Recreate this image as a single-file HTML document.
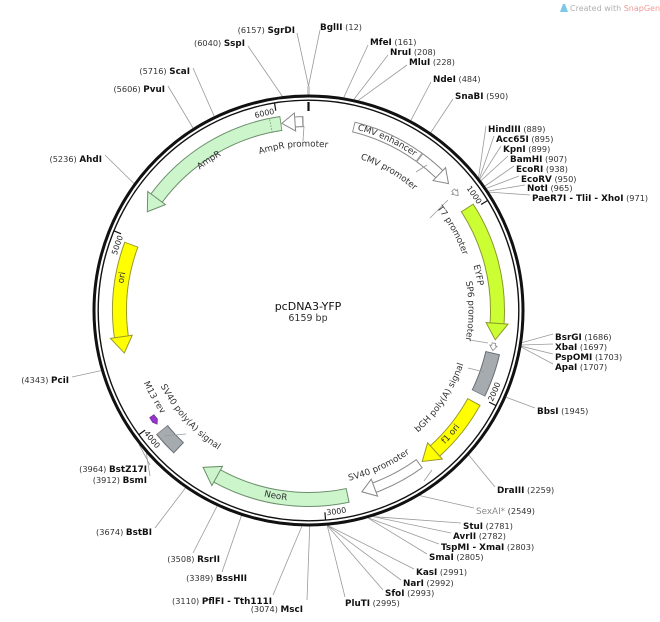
<!DOCTYPE html>
<html><head><meta charset="utf-8"><style>
html,body{margin:0;padding:0;background:#fff;}
svg{display:block;font-family:"DejaVu Sans","Liberation Sans",sans-serif;}
.e{font-size:8.8px;fill:#111;}
.e tspan.n{font-weight:bold;}
.e tspan.p{font-size:8.2px;fill:#333;}
.f{font-size:8.8px;fill:#333;}
.t{font-size:7.8px;fill:#222;}
.l{stroke:#9a9a9a;stroke-width:0.8;fill:none;}
</style></head><body>
<svg width="660" height="622" viewBox="0 0 660 622" xmlns="http://www.w3.org/2000/svg">
<defs>
<path id="cw162" d="M308.5,472.5 A162,162 0 1 1 308.5,148.5 A162,162 0 1 1 308.5,472.5"/>
<path id="cw166" d="M308.5,476.5 A166,166 0 1 1 308.5,144.5 A166,166 0 1 1 308.5,476.5"/>
<path id="cw173" d="M308.5,483.5 A173,173 0 1 1 308.5,137.5 A173,173 0 1 1 308.5,483.5"/>
<path id="cw180" d="M308.5,490.5 A180,180 0 1 1 308.5,130.5 A180,180 0 1 1 308.5,490.5"/>
<path id="cw189" d="M308.5,499.5 A189,189 0 1 1 308.5,121.5 A189,189 0 1 1 308.5,499.5"/>
<path id="cw202" d="M308.5,512.5 A202,202 0 1 1 308.5,108.5 A202,202 0 1 1 308.5,512.5"/>
<path id="ccw162" d="M308.5,148.5 A162,162 0 1 0 308.5,472.5 A162,162 0 1 0 308.5,148.5"/>
<path id="ccw164" d="M308.5,146.5 A164,164 0 1 0 308.5,474.5 A164,164 0 1 0 308.5,146.5"/>
<path id="ccw173" d="M308.5,137.5 A173,173 0 1 0 308.5,483.5 A173,173 0 1 0 308.5,137.5"/>
<path id="ccw178" d="M308.5,132.5 A178,178 0 1 0 308.5,488.5 A178,178 0 1 0 308.5,132.5"/>
<path id="ccw189" d="M308.5,121.5 A189,189 0 1 0 308.5,499.5 A189,189 0 1 0 308.5,121.5"/>
<path id="ccw203" d="M308.5,107.5 A203,203 0 1 0 308.5,513.5 A203,203 0 1 0 308.5,107.5"/>
</defs>

<path d="M560,12 l3,-8 l2,0 l3,8 z" fill="#7cc8e8"/>
<text x="570" y="11" style="font-size:8px;fill:#b0b0b0">Created with <tspan fill="#e99">SnapGene</tspan>®</text>

<g class="l">
<path d="M320,30 L308.5,86 M297,33 L308.5,86"/>
<path d="M308.5,86 L308.5,95" stroke="#ccc" stroke-width="3"/>
<path d="M248,46 L282.3,96.1"/>
<path d="M368,45 L343.8,97.4"/>
<path d="M388,55 L354,99.3"/>
<path d="M407,65 L358.3,100.3"/>
<path d="M431,82 L410.9,120.3"/>
<path d="M453,99 L430.8,132.5"/>
<path d="M486,126 L478.6,177.4"/>
<path d="M494,136 L479.4,178.5"/>
<path d="M501,146 L479.9,179.2"/>
<path d="M508,156 L481.1,180.6"/>
<path d="M514,166 L485.1,186"/>
<path d="M519,176 L486.6,188.3"/>
<path d="M525,185 L488.5,191"/>
<path d="M530,195 L489.2,192.1"/>
<path d="M553,334 L522.1,342.6"/>
<path d="M553,344 L521.7,345"/>
<path d="M553,354 L521.5,346.3"/>
<path d="M553,364 L521.4,347.2"/>
<path d="M535,408 L506.3,397.3"/>
<path d="M495,487 L468.9,455.2"/>
<path d="M474,508 L419.8,495.6"/>
<path d="M461,523 L373.3,516.6"/>
<path d="M451,533 L373.1,516.6"/>
<path d="M439,544 L368.6,518"/>
<path d="M427,554 L368.1,518.1"/>
<path d="M414,569 L328,525.6"/>
<path d="M401,580 L327.8,525.7"/>
<path d="M383,590 L327.5,525.7"/>
<path d="M345,597 L327.3,525.8"/>
<path d="M307,600 L309.7,526.5"/>
<path d="M273,595 L301.8,526.4"/>
<path d="M222,572 L241.4,515.8"/>
<path d="M193,553 L217,506.2"/>
<path d="M155,528 L185.4,488"/>
<path d="M150,476 L146.3,453.2"/>
<path d="M150,465 L139,444.4"/>
<path d="M72,377 L101,370.6"/>
<path d="M105,155 L133.8,183.4"/>
<path d="M168,86 L193,128"/>
<path d="M193,68 L214.2,116.2"/>
</g>

<circle cx="308.5" cy="310.5" r="214.5" fill="none" stroke="#111" stroke-width="3"/>
<circle cx="308.5" cy="310.5" r="210.3" fill="none" stroke="#111" stroke-width="1.4"/>

<g stroke="#111" stroke-width="1.2">
<line x1="308.5" y1="102" x2="308.5" y2="111" stroke-width="2.2"/>
<g transform="rotate(58.45 308.5 310.5)"><line x1="308.5" y1="100.5" x2="308.5" y2="108"/></g>
<g transform="rotate(116.9 308.5 310.5)"><line x1="308.5" y1="100.5" x2="308.5" y2="108"/></g>
<g transform="rotate(175.35 308.5 310.5)"><line x1="308.5" y1="100.5" x2="308.5" y2="108"/></g>
<g transform="rotate(233.8 308.5 310.5)"><line x1="308.5" y1="100.5" x2="308.5" y2="108"/></g>
<g transform="rotate(292.25 308.5 310.5)"><line x1="308.5" y1="100.5" x2="308.5" y2="108"/></g>
<g transform="rotate(350.7 308.5 310.5)"><line x1="308.5" y1="100.5" x2="308.5" y2="108"/></g>
</g>
<g class="t">
<text transform="rotate(57.9 308.5 310.5)"><textPath href="#cw202" startOffset="50%" text-anchor="end" dominant-baseline="central">1000</textPath></text>
<text transform="rotate(291.7 308.5 310.5)"><textPath href="#cw202" startOffset="50%" text-anchor="end" dominant-baseline="central">5000</textPath></text>
<text transform="rotate(350.2 308.5 310.5)"><textPath href="#cw202" startOffset="50%" text-anchor="end" dominant-baseline="central">6000</textPath></text>
<text transform="rotate(-63.6 308.5 310.5)"><textPath href="#ccw203" startOffset="50%" text-anchor="start" dominant-baseline="central">2000</textPath></text>
<text transform="rotate(-5.1 308.5 310.5)"><textPath href="#ccw203" startOffset="50%" text-anchor="start" dominant-baseline="central">3000</textPath></text>
<text transform="rotate(53.3 308.5 310.5)"><textPath href="#ccw203" startOffset="50%" text-anchor="start" dominant-baseline="central">4000</textPath></text>
</g>

<g fill="none">
<circle cx="308.5" cy="310.5" r="189" stroke="#888" stroke-width="11" stroke-dasharray="73.07 2000" transform="rotate(-76.26 308.5 310.5)"/>
<circle cx="308.5" cy="310.5" r="189" stroke="#fff" stroke-width="9" stroke-dasharray="71.5 2000" transform="rotate(-76.0 308.5 310.5)"/>
<circle cx="308.5" cy="310.5" r="189" stroke="#888" stroke-width="11" stroke-dasharray="25.9 2000" transform="rotate(-54.05 308.5 310.5)"/>
<circle cx="308.5" cy="310.5" r="189" stroke="#fff" stroke-width="9" stroke-dasharray="25.5 2000" transform="rotate(-53.8 308.5 310.5)"/>
<circle cx="308.5" cy="310.5" r="189" stroke="#8a9a2a" stroke-width="15" stroke-dasharray="121.7 2000" transform="rotate(-33 308.5 310.5)"/>
<circle cx="308.5" cy="310.5" r="189" stroke="#ccff33" stroke-width="13" stroke-dasharray="121.2 2000" transform="rotate(-32.7 308.5 310.5)"/>
<circle cx="308.5" cy="310.5" r="189" stroke="#6a6e72" stroke-width="15" stroke-dasharray="43.2 2000" transform="rotate(12.9 308.5 310.5)"/>
<circle cx="308.5" cy="310.5" r="189" stroke="#a6abb0" stroke-width="13" stroke-dasharray="41.6 2000" transform="rotate(13.2 308.5 310.5)"/>
<circle cx="308.5" cy="310.5" r="189" stroke="#99992a" stroke-width="15" stroke-dasharray="63.3 2000" transform="rotate(28.8 308.5 310.5)"/>
<circle cx="308.5" cy="310.5" r="189" stroke="#ffff00" stroke-width="13" stroke-dasharray="62.8 2000" transform="rotate(29.1 308.5 310.5)"/>
<circle cx="308.5" cy="310.5" r="189" stroke="#888" stroke-width="11" stroke-dasharray="51.5 2000" transform="rotate(54 308.5 310.5)"/>
<circle cx="308.5" cy="310.5" r="189" stroke="#fff" stroke-width="9" stroke-dasharray="51 2000" transform="rotate(54.3 308.5 310.5)"/>
<circle cx="308.5" cy="310.5" r="189" stroke="#6b8e6b" stroke-width="15" stroke-dasharray="135.3 2000" transform="rotate(77.9 308.5 310.5)"/>
<circle cx="308.5" cy="310.5" r="189" stroke="#ccf5cc" stroke-width="13" stroke-dasharray="134.8 2000" transform="rotate(78.2 308.5 310.5)"/>
<circle cx="308.5" cy="310.5" r="189" stroke="#6a6e72" stroke-width="15" stroke-dasharray="25.1 2000" transform="rotate(133.3 308.5 310.5)"/>
<circle cx="308.5" cy="310.5" r="189" stroke="#a6abb0" stroke-width="13" stroke-dasharray="23.5 2000" transform="rotate(133.6 308.5 310.5)"/>
<circle cx="308.5" cy="310.5" r="189" stroke="#99992a" stroke-width="15" stroke-dasharray="94 2000" transform="rotate(172 308.5 310.5)"/>
<circle cx="308.5" cy="310.5" r="189" stroke="#ffff00" stroke-width="13" stroke-dasharray="93.5 2000" transform="rotate(171.9 308.5 310.5)"/>
<circle cx="308.5" cy="310.5" r="189" stroke="#6b8e6b" stroke-width="15" stroke-dasharray="149.1 2000" transform="rotate(216.5 308.5 310.5)"/>
<circle cx="308.5" cy="310.5" r="189" stroke="#ccf5cc" stroke-width="13" stroke-dasharray="148.6 2000" transform="rotate(216.4 308.5 310.5)"/>
<circle cx="308.5" cy="310.5" r="189" stroke="#888" stroke-width="11" stroke-dasharray="8.6 2000" transform="rotate(265.9 308.5 310.5)"/>
<circle cx="308.5" cy="310.5" r="189" stroke="#fff" stroke-width="9" stroke-dasharray="8.0 2000" transform="rotate(265.7 308.5 310.5)"/>
</g>
<g stroke-width="1" stroke-linejoin="miter">
<polygon transform="rotate(43.8 308.5 310.5)" points="308.5,112.5 308.5,130.5 321.7,122" fill="#fff" stroke="#888"/>
<polygon transform="rotate(93.9 308.5 310.5)" points="308.5,110.5 308.5,132.5 325,122.2" fill="#ccff33" stroke="#8a9a2a"/>
<polygon transform="rotate(138 308.5 310.5)" points="308.5,110.5 308.5,132.5 325,122.2" fill="#ffff00" stroke="#99992a"/>
<polygon transform="rotate(159.6 308.5 310.5)" points="308.5,112.5 308.5,130.5 321.7,122" fill="#fff" stroke="#888"/>
<polygon transform="rotate(208.9 308.5 310.5)" points="308.5,110.5 308.5,132.5 325,122.2" fill="#ccf5cc" stroke="#6b8e6b"/>
<polygon transform="rotate(262 308.5 310.5)" points="308.5,110.5 308.5,132.5 292,122.2" fill="#ffff00" stroke="#99992a"/>
<polygon transform="rotate(306.5 308.5 310.5)" points="308.5,110.5 308.5,132.5 292,122.2" fill="#ccf5cc" stroke="#6b8e6b"/>
<polygon transform="rotate(355.9 308.5 310.5)" points="308.5,112.5 308.5,130.5 295.3,122" fill="#fff" stroke="#888"/>
<polygon transform="rotate(50.2 308.5 310.5)" points="308.5,124 311,124 311,126 316,122 311,118.5 311,120.5 308.5,120.5" fill="#fff" stroke="#888" stroke-width="0.8"/>
<polygon transform="rotate(100 308.5 310.5)" points="308.5,124 311,124 311,126 316,122 311,118.5 311,120.5 308.5,120.5" fill="#fff" stroke="#888" stroke-width="0.8"/>
<polygon transform="rotate(236 308.5 310.5)" points="308.5,119 303,118.8 299,121.5 303,124.5 308.5,124" fill="#9933cc" stroke="#663399" stroke-width="0.8"/>
<line transform="rotate(348.5 308.5 310.5)" x1="308.5" y1="115.5" x2="308.5" y2="128.5" stroke="#6b8e6b" stroke-width="0.8" stroke-dasharray="1.5 1.5"/>
</g>
<g class="l">
<path d="M303,141 L304,126"/>
<path d="M416,172 L427,165"/>
<path d="M430,218 L448,200"/>
<path d="M470,340 L488,343"/>
<path d="M468,368 L484,372"/>
<path d="M424,481 L432,470"/>
<path d="M186,434 L164,436"/>
</g>

<g class="f">
<text transform="rotate(24.8 308.5 310.5)"><textPath href="#cw189" startOffset="50%" text-anchor="middle" dominant-baseline="central">CMV enhancer</textPath></text>
<text transform="rotate(30.1 308.5 310.5)"><textPath href="#cw162" startOffset="50%" text-anchor="middle" dominant-baseline="central">CMV promoter</textPath></text>
<text transform="rotate(-5.3 308.5 310.5)"><textPath href="#cw166" startOffset="50%" text-anchor="middle" dominant-baseline="central">AmpR promoter</textPath></text>
<text transform="rotate(326.5 308.5 310.5)"><textPath href="#cw180" startOffset="50%" text-anchor="middle" dominant-baseline="central">AmpR</textPath></text>
<text transform="rotate(60.9 308.5 310.5)"><textPath href="#cw166" startOffset="50%" text-anchor="middle" dominant-baseline="central">T7 promoter</textPath></text>
<text transform="rotate(78.2 308.5 310.5)"><textPath href="#cw173" startOffset="50%" text-anchor="middle" dominant-baseline="central">EYFP</textPath></text>
<text transform="rotate(90.2 308.5 310.5)"><textPath href="#cw162" startOffset="50%" text-anchor="middle" dominant-baseline="central">SP6 promoter</textPath></text>
<text transform="rotate(280 308.5 310.5)"><textPath href="#cw189" startOffset="50%" text-anchor="middle" dominant-baseline="central">ori</textPath></text>
<text transform="rotate(-56.4 308.5 310.5)"><textPath href="#ccw162" startOffset="50%" text-anchor="middle" dominant-baseline="central">bGH poly(A) signal</textPath></text>
<text transform="rotate(-49 308.5 310.5)"><textPath href="#ccw189" startOffset="50%" text-anchor="middle" dominant-baseline="central">f1 ori</textPath></text>
<text transform="rotate(-24.4 308.5 310.5)"><textPath href="#ccw173" startOffset="50%" text-anchor="middle" dominant-baseline="central">SV40 promoter</textPath></text>
<text transform="rotate(10 308.5 310.5)"><textPath href="#ccw189" startOffset="50%" text-anchor="middle" dominant-baseline="central">NeoR</textPath></text>
<text transform="rotate(48 308.5 310.5)"><textPath href="#ccw164" startOffset="50%" text-anchor="middle" dominant-baseline="central">SV40 poly(A) signal</textPath></text>
<text transform="rotate(60.6 308.5 310.5)"><textPath href="#ccw178" startOffset="50%" text-anchor="middle" dominant-baseline="central">M13 rev</textPath></text>
</g>

<text x="308" y="310" text-anchor="middle" style="font-size:11px;fill:#111">pcDNA3-YFP</text>
<text x="308" y="321" text-anchor="middle" style="font-size:9.5px;fill:#333">6159 bp</text>

<g class="e">
<text x="320" y="30"><tspan class="n">BglII</tspan><tspan class="p"> (12)</tspan></text>
<text x="370" y="45"><tspan class="n">MfeI</tspan><tspan class="p"> (161)</tspan></text>
<text x="390" y="55"><tspan class="n">NruI</tspan><tspan class="p"> (208)</tspan></text>
<text x="409" y="65"><tspan class="n">MluI</tspan><tspan class="p"> (228)</tspan></text>
<text x="433" y="82"><tspan class="n">NdeI</tspan><tspan class="p"> (484)</tspan></text>
<text x="455" y="99"><tspan class="n">SnaBI</tspan><tspan class="p"> (590)</tspan></text>
<text x="488" y="132"><tspan class="n">HindIII</tspan><tspan class="p"> (889)</tspan></text>
<text x="496" y="142"><tspan class="n">Acc65I</tspan><tspan class="p"> (895)</tspan></text>
<text x="503" y="152"><tspan class="n">KpnI</tspan><tspan class="p"> (899)</tspan></text>
<text x="510" y="162"><tspan class="n">BamHI</tspan><tspan class="p"> (907)</tspan></text>
<text x="516" y="172"><tspan class="n">EcoRI</tspan><tspan class="p"> (938)</tspan></text>
<text x="521" y="182"><tspan class="n">EcoRV</tspan><tspan class="p"> (950)</tspan></text>
<text x="527" y="191"><tspan class="n">NotI</tspan><tspan class="p"> (965)</tspan></text>
<text x="532" y="201"><tspan class="n">PaeR7I - TliI - XhoI</tspan><tspan class="p"> (971)</tspan></text>
<text x="555" y="340"><tspan class="n">BsrGI</tspan><tspan class="p"> (1686)</tspan></text>
<text x="555" y="350"><tspan class="n">XbaI</tspan><tspan class="p"> (1697)</tspan></text>
<text x="555" y="360"><tspan class="n">PspOMI</tspan><tspan class="p"> (1703)</tspan></text>
<text x="555" y="370"><tspan class="n">ApaI</tspan><tspan class="p"> (1707)</tspan></text>
<text x="537" y="414"><tspan class="n">BbsI</tspan><tspan class="p"> (1945)</tspan></text>
<text x="497" y="493"><tspan class="n">DraIII</tspan><tspan class="p"> (2259)</tspan></text>
<text x="476" y="514" style="fill:#888"><tspan>SexAI*</tspan><tspan class="p"> (2549)</tspan></text>
<text x="463" y="529"><tspan class="n">StuI</tspan><tspan class="p"> (2781)</tspan></text>
<text x="453" y="539"><tspan class="n">AvrII</tspan><tspan class="p"> (2782)</tspan></text>
<text x="441" y="550"><tspan class="n">TspMI - XmaI</tspan><tspan class="p"> (2803)</tspan></text>
<text x="429" y="560"><tspan class="n">SmaI</tspan><tspan class="p"> (2805)</tspan></text>
<text x="416" y="575"><tspan class="n">KasI</tspan><tspan class="p"> (2991)</tspan></text>
<text x="403" y="586"><tspan class="n">NarI</tspan><tspan class="p"> (2992)</tspan></text>
<text x="385" y="596"><tspan class="n">SfoI</tspan><tspan class="p"> (2993)</tspan></text>
<text x="345" y="606"><tspan class="n">PluTI</tspan><tspan class="p"> (2995)</tspan></text>
</g>
<g class="e" text-anchor="end">
<text x="295" y="33"><tspan class="p">(6157) </tspan><tspan class="n">SgrDI</tspan></text>
<text x="245" y="46"><tspan class="p">(6040) </tspan><tspan class="n">SspI</tspan></text>
<text x="190" y="74"><tspan class="p">(5716) </tspan><tspan class="n">ScaI</tspan></text>
<text x="165" y="92"><tspan class="p">(5606) </tspan><tspan class="n">PvuI</tspan></text>
<text x="102" y="162"><tspan class="p">(5236) </tspan><tspan class="n">AhdI</tspan></text>
<text x="69" y="383"><tspan class="p">(4343) </tspan><tspan class="n">PciI</tspan></text>
<text x="147" y="472"><tspan class="p">(3964) </tspan><tspan class="n">BstZ17I</tspan></text>
<text x="147" y="483"><tspan class="p">(3912) </tspan><tspan class="n">BsmI</tspan></text>
<text x="152" y="535"><tspan class="p">(3674) </tspan><tspan class="n">BstBI</tspan></text>
<text x="220" y="562"><tspan class="p">(3508) </tspan><tspan class="n">RsrII</tspan></text>
<text x="247" y="581"><tspan class="p">(3389) </tspan><tspan class="n">BssHII</tspan></text>
<text x="272" y="604"><tspan class="p">(3110) </tspan><tspan class="n">PflFI - Tth111I</tspan></text>
<text x="303" y="612"><tspan class="p">(3074) </tspan><tspan class="n">MscI</tspan></text>
</g>
</svg>
</body></html>
